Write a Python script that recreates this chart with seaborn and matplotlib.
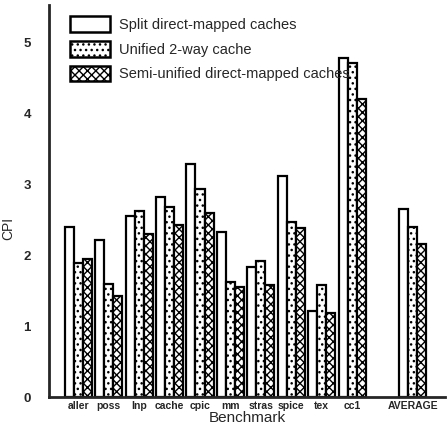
import matplotlib
matplotlib.use("Agg")
import matplotlib.pyplot as plt
import seaborn as sns
import pandas as pd

benchmarks = ["aller", "poss", "lnp", "cache", "cpic", "mm", "stras", "spice", "tex", "cc1", "AVERAGE"]
split_dm = [2.40, 2.21, 2.55, 2.82, 3.29, 2.32, 1.84, 3.11, 1.22, 4.77, 2.65]
unified_2way = [1.89, 1.59, 2.62, 2.68, 2.93, 1.62, 1.92, 2.47, 1.58, 4.70, 2.40]
semi_unified = [1.94, 1.43, 2.30, 2.42, 2.60, 1.55, 1.58, 2.38, 1.19, 4.20, 2.15]
series_names = ["Split direct-mapped caches", "Unified 2-way cache", "Semi-unified direct-mapped caches"]

rows = []
for name, vals in zip(series_names, [split_dm, unified_2way, semi_unified]):
    for b, v in zip(benchmarks, vals):
        rows.append({"Benchmark": b, "CPI": v, "Config": name})
df = pd.DataFrame(rows)

sns.set_style("ticks")
plt.rcParams["font.family"] = ["Liberation Sans", "DejaVu Sans"]
plt.rcParams["hatch.linewidth"] = 1.0

fig = plt.figure(figsize=(4.48, 4.28), dpi=100)
ax = fig.add_axes([0.109, 0.072, 0.884, 0.916])

order = benchmarks[:10] + [" "] + benchmarks[10:]
sns.barplot(data=df, x="Benchmark", y="CPI", hue="Config", order=order,
            hue_order=series_names, palette=["white", "white", "white"],
            width=0.89, edgecolor="black", linewidth=1.6, ax=ax, dodge=True)

hatches = ["", "...", "xxxx"]
for cont, h in zip(ax.containers, hatches):
    for p in cont.patches:
        p.set_hatch(h)

ax.set_xlim(-0.97, 12.05)
ax.set_ylim(0, 5.52)
ax.set_yticks([0, 1, 2, 3, 4, 5])
ax.set_yticklabels(["0", "1", "2", "3", "4", "5"], fontsize=9.5, fontweight="bold")
ax.tick_params(axis="y", length=0, pad=13)
ax.tick_params(axis="x", length=0, pad=3, labelsize=7.5)
for t in ax.get_xticklabels():
    t.set_fontweight("bold")
ax.set_ylabel("CPI", fontsize=10)
ax.yaxis.set_label_coords(-0.085, 0.43)
ax.set_xlabel("Benchmark", fontsize=11, labelpad=0)
for s in ["top", "right"]:
    ax.spines[s].set_visible(False)
ax.spines["left"].set_linewidth(2)
ax.spines["bottom"].set_linewidth(2)

leg = ax.legend(loc="upper left", bbox_to_anchor=(0.02, 1.005), frameon=False,
                fontsize=10.5, handlelength=2.75, handleheight=1.3,
                labelspacing=0.6, handletextpad=0.6)
for h, hh in zip(leg.legend_handles, hatches):
    h.set_hatch(hh)
    h.set_edgecolor("black")
    h.set_linewidth(1.8)

fig.savefig("out.png", dpi=100)
